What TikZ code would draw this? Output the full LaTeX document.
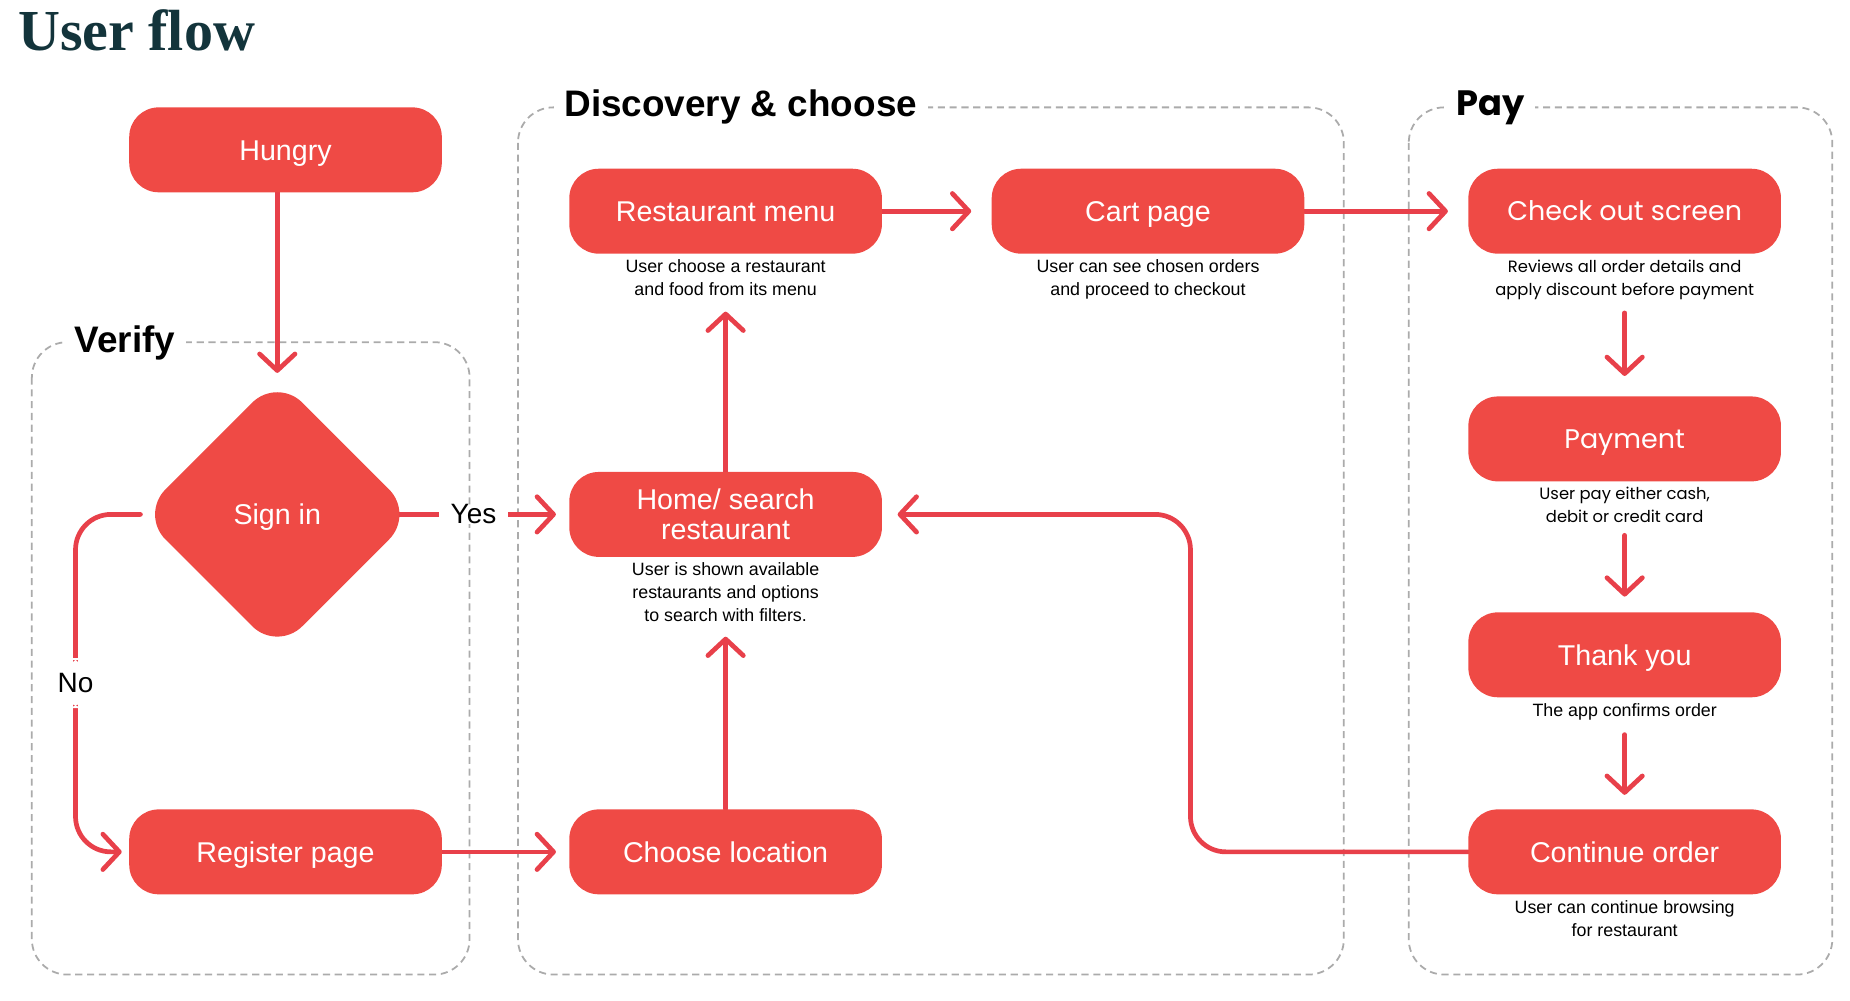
\documentclass[tikz,border=0pt]{standalone}
\usepackage{fontspec}
\setmainfont{Liberation Sans}
\newfontfamily\wideface{Poppins}
\newfontfamily\titleface{Liberation Serif}
\usetikzlibrary{positioning,backgrounds,calc,shapes.geometric,arrows.meta}
\definecolor{FlowRed}{HTML}{EF4A45}
\definecolor{FlowLine}{HTML}{E8404A}
\definecolor{FlowFrame}{HTML}{ABABAB}
\definecolor{FlowInk}{HTML}{13343B}

\begin{document}
\begin{tikzpicture}[x=0.02cm,y=-0.02cm,
  screen/.style={fill=FlowRed, text=white, rounded corners=0.5cm, minimum width=5.3cm,
    minimum height=1.44cm, inner sep=0pt, align=center, text height=13pt, text depth=3.1pt,
    font=\fontsize{13.8}{14.5}\selectfont},
  widescreen/.style={screen, text height=12.2pt, font=\wideface\fontsize{13}{15}\selectfont},
  decision/.style={diamond, fill=FlowRed, text=white, rounded corners=0.6cm, minimum width=4.64cm,
    minimum height=4.64cm, inner sep=0pt, outer sep=0pt, text height=13pt, text depth=3.1pt,
    font=\fontsize{13.8}{14.5}\selectfont},
  note/.style={inner sep=0pt, align=center, font=\fontsize{8.6}{11.1}\selectfont},
  widenote/.style={note, font=\wideface\fontsize{7.9}{11.1}\selectfont},
  lane/.style={draw=FlowFrame, line width=0.03cm, dash pattern=on 0.12cm off 0.08cm, rounded corners=0.6cm},
  lanelabel/.style={fill=white, anchor=west, inner xsep=0.18cm, inner ysep=0pt,
    font=\bfseries\fontsize{17.8}{20}\selectfont},
  branch/.style={fill=white, inner xsep=0.2cm, inner ysep=0pt, font=\fontsize{13.5}{15}\selectfont},
  flow/.style={draw=FlowLine, line width=0.08cm, line cap=round,
    -{Straight Barb[length=0.28cm,width=0.6cm,round]}}]
  \useasboundingbox (0,0) rectangle (1568,848);

  \node[anchor=base west, inner sep=0pt, text=FlowInk,
    font=\titleface\bfseries\fontsize{28}{30}\selectfont] (title) at (15,43) {User flow};

  % screens
  \node[screen] (hungry) at (242,127) {Hungry};
  \node[decision] (signin) at (235,436) {Sign in};
  \node[screen] (register) at (242,722) {Register page};
  \node[screen] (menu) at (615,179) {Restaurant menu};
  \node[screen, text height=, text depth=] (home) at (615,436) {Home/ search\\restaurant};
  \node[screen] (location) at (615,722) {Choose location};
  \node[screen] (cart) at (973,179) {Cart page};
  \node[widescreen] (checkout) at (1377,179) {Check out screen};
  \node[widescreen] (payment) at (1377,372) {Payment};
  \node[screen] (thanks) at (1377,555) {Thank you};
  \node[screen] (resume) at (1377,722) {Continue order};

  % notes under the screens
  \node[note, below=0.09cm of menu] (menunote) {User choose a restaurant\\and food from its menu};
  \node[note, below=0.09cm of cart] (cartnote) {User can see chosen orders\\and proceed to checkout};
  \node[note, below=0.09cm of home] (homenote) {User is shown available\\restaurants and options\\to search with filters.};
  \node[widenote, below=0.09cm of checkout] (checkoutnote) {Reviews all order details and\\apply discount before payment};
  \node[widenote, below=0.09cm of payment] (paymentnote) {User pay either cash,\\debit or credit card};
  \node[note, below=0.09cm of thanks] (thanksnote) {The app confirms order};
  \node[note, below=0.09cm of resume] (resumenote) {User can continue browsing\\for restaurant};

  \coordinate (nobend) at (64,579);
  \coordinate (loopback) at (1009,580);

  \begin{scope}[on background layer]
  % lanes
  \draw[lane] (27,290) rectangle (398,826);
  \draw[lane] (439,91) rectangle (1139,826);
  \draw[lane] (1194,91) rectangle (1553,826);
  \node[lanelabel] (verify) at (54,291) {Verify};
  \node[lanelabel] (discover) at (469,91) {Discovery \& choose};
  \node[lanelabel, font=\wideface\bfseries\fontsize{17}{20}\selectfont] (pay) at (1225,91) {Pay};

  % connectors
  \draw[flow, shorten >=0.08cm] (hungry.south -| signin.north) -- (signin.north);
  \draw[flow, shorten >=0.22cm] (signin.center) -- node[pos=0.673, branch]{Yes} (home.west);
  \draw[flow, rounded corners=0.6cm, shorten >=0.12cm] (signin.west) -| (nobend)
     node[branch, inner xsep=2pt, inner ysep=0.26cm]{No} |- (register.west);
  \draw[flow, shorten >=0.22cm] (register) -- (location);
  \draw[flow, shorten >=0.24cm] (location) -- (homenote);
  \draw[flow, shorten >=0.26cm] (home) -- (menunote);
  \draw[flow, shorten >=0.34cm] (menu) -- (cart);
  \draw[flow, shorten >=0.34cm] (cart) -- (checkout);
  \draw[flow, shorten <=0.22cm, shorten >=0.34cm] (checkoutnote) -- (payment);
  \draw[flow, shorten <=0.2cm, shorten >=0.26cm] (paymentnote) -- (thanks);
  \draw[flow, shorten <=0.24cm, shorten >=0.24cm] (thanksnote) -- (resume);
  \draw[flow, rounded corners=0.6cm, shorten >=0.26cm] (resume.west) -| (loopback) |- (home.east);
  \end{scope}
\end{tikzpicture}
\end{document}
